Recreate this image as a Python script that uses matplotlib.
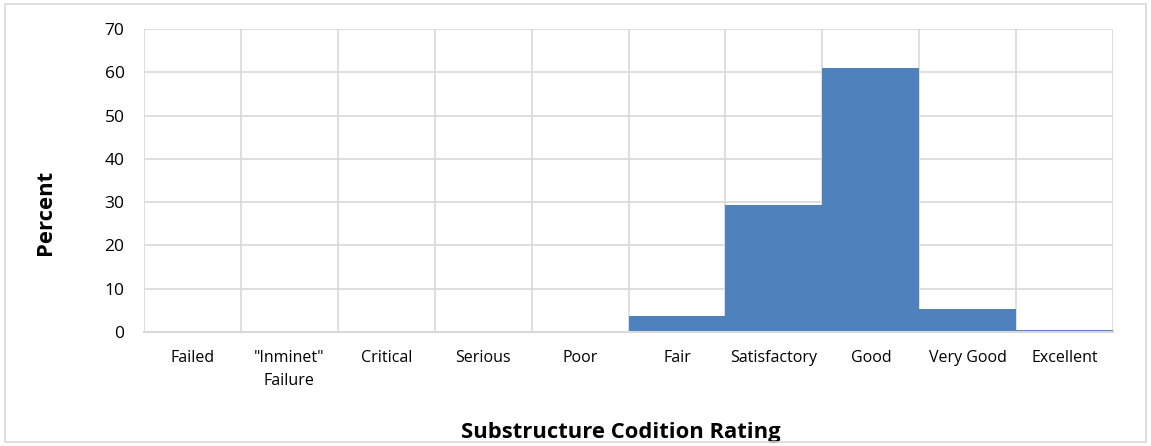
import matplotlib
matplotlib.use("Agg")
import matplotlib.pyplot as plt
import numpy as np

categories = ["Failed", "\"Inminet\"\nFailure", "Critical", "Serious", "Poor",
              "Fair", "Satisfactory", "Good", "Very Good", "Excellent"]
percent = [0, 0, 0, 0, 0.3, 3.7, 29.4, 61.0, 5.3, 0.5]
yticks = [0, 10, 20, 30, 40, 50, 60, 70]

plt.rcParams['font.family'] = ['Open Sans', 'DejaVu Sans']

fig = plt.figure(figsize=(11.51, 4.46), dpi=100)
fig.patch.set_facecolor('white')
border = plt.Rectangle((0.004, 0.01), 0.992, 0.98, transform=fig.transFigure,
                       fill=False, edgecolor='#d9d9d9', linewidth=1.2)
fig.patches.append(border)

ax = fig.add_axes([0.1251, 0.2556, 0.842, 0.6794])
x = np.arange(len(categories))
ax.bar(x, percent, width=1.0, color='#4f81bd', zorder=2)

ax.set_xlim(-0.5, len(categories) - 0.5)
ax.set_ylim(0, 70)
ax.set_yticks(yticks)
ax.set_yticklabels([str(v) for v in yticks], fontsize=12.5)
ax.set_xticks(x)
ax.set_xticklabels(categories, fontsize=11.5, linespacing=1.55)

for v in yticks[1:]:
    ax.axhline(v, color='#d9d9d9', linewidth=1.2, zorder=1)
for b in np.arange(-0.5, len(categories) + 0.5, 1.0):
    ax.axvline(b, color='#d9d9d9', linewidth=1.2, zorder=1)

for s in ['top', 'right', 'left']:
    ax.spines[s].set_visible(False)
ax.spines['bottom'].set_color('#d9d9d9')
ax.spines['bottom'].set_linewidth(1.5)
ax.spines['bottom'].set_zorder(3)
ax.tick_params(axis='both', length=0)
ax.tick_params(axis='x', pad=13)
ax.tick_params(axis='y', pad=14)

ax.set_ylabel('Percent', fontsize=15.8, fontweight='bold', va='center')
ax.yaxis.set_label_coords(-0.102, 0.396)
ax.set_xlabel('Substructure Codition Rating', fontsize=15.8, fontweight='bold', va='center')
ax.xaxis.set_label_coords(0.492, -0.332)

fig.savefig('out.png', dpi=100)
